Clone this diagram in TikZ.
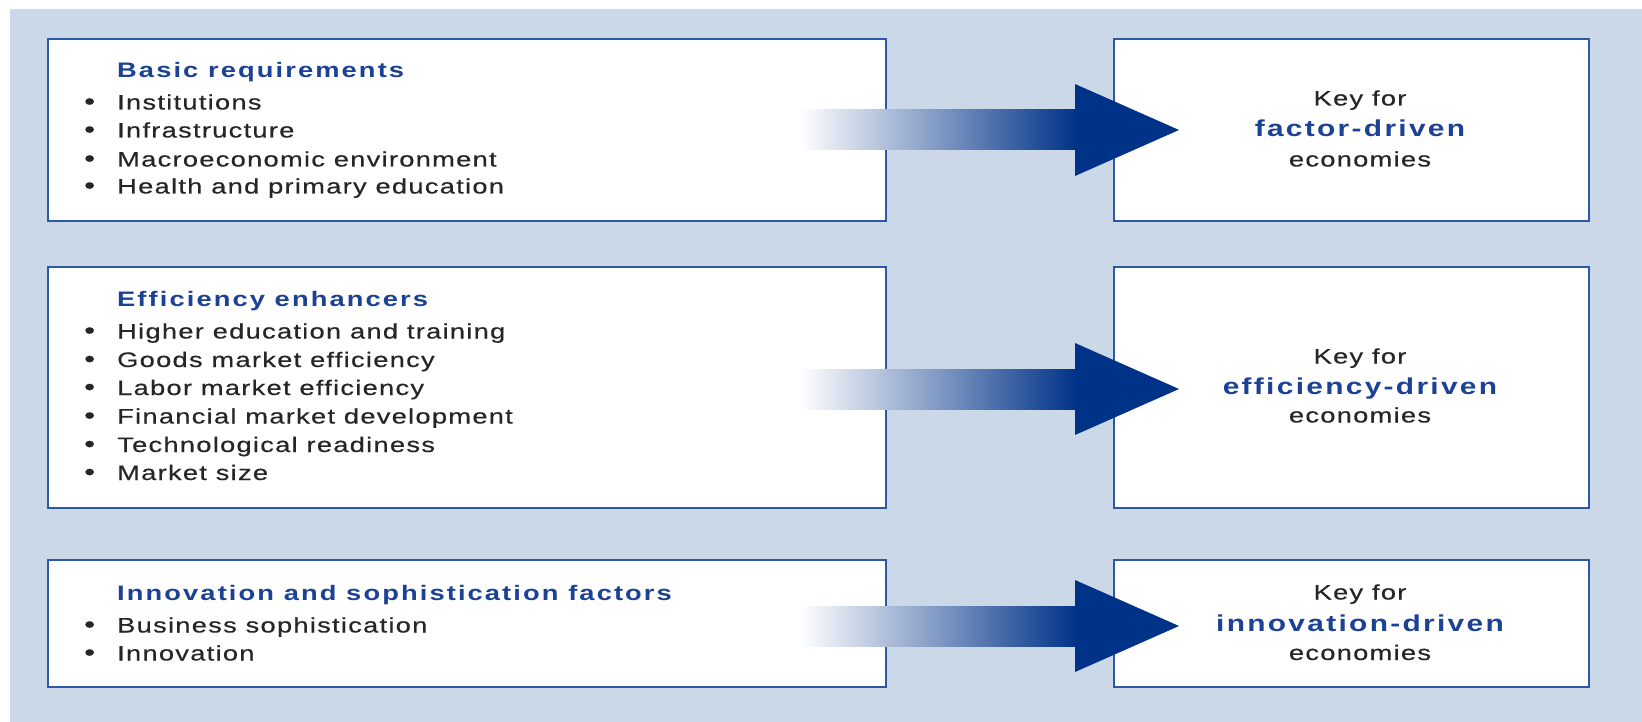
\documentclass[tikz,border=0pt]{standalone}
\usepackage{fontspec}
\setmainfont{Liberation Sans}
\newfontfamily\wefont[FakeStretch=1.3,LetterSpace=6,FakeBold=0.4]{Liberation Sans}
\newfontfamily\wbfont[FakeStretch=1.3,LetterSpace=10]{Liberation Sans Bold}
\usetikzlibrary{calc}
\definecolor{bgblue}{RGB}{203,216,232}
\definecolor{lineblue}{RGB}{46,88,166}
\definecolor{arrowblue}{RGB}{0,50,135}
\definecolor{titleblue}{RGB}{28,66,150}
\definecolor{textgray}{RGB}{38,38,38}
\begin{document}
\begin{tikzpicture}[x=1pt,y=-1pt,
  panel/.style={draw=lineblue,line width=2.5pt,fill=white,inner sep=0pt},
  txt/.style={inner sep=0pt,anchor=west,text height=15pt,text depth=0pt,
    font=\wefont\fontsize{21}{21}\selectfont,text=textgray},
  ttl/.style={txt,font=\wbfont\fontsize{21}{21}\selectfont,text=titleblue},
  keytxt/.style={inner sep=0pt,anchor=center,text height=15pt,text depth=0pt,
    font=\wefont\fontsize{21}{21}\selectfont,text=textgray},
  keybold/.style={keytxt,font=\wbfont\fontsize{23}{23}\selectfont,text=titleblue},
  shaft/.style={left color=white,right color=arrowblue},
  head/.style={fill=arrowblue}]
\useasboundingbox (0,0) rectangle (1642,722);
\fill[bgblue] (10,9) rectangle (1642,722);

% boxes
\node[panel,minimum width=838pt,minimum height=182pt] (L1) at (467,130) {};
\node[panel,minimum width=475pt,minimum height=182pt] (R1) at (1351.5,130) {};
\node[panel,minimum width=838pt,minimum height=241pt] (L2) at (467,387.5) {};
\node[panel,minimum width=475pt,minimum height=241pt] (R2) at (1351.5,387.5) {};
\node[panel,minimum width=838pt,minimum height=127pt] (L3) at (467,623.5) {};
\node[panel,minimum width=475pt,minimum height=127pt] (R3) at (1351.5,623.5) {};

\newcommand{\bul}[1]{\makebox[33pt][l]{\fontsize{24}{24}\selectfont •}#1}

% row 1 text
\node[ttl] (t1) at (117,70.5) {Basic requirements};
\node[txt] (i11) at (84,102) {\bul{Institutions}};
\node[txt] (i12) at (84,130) {\bul{Infrastructure}};
\node[txt] (i13) at (84,159) {\bul{Macroeconomic environment}};
\node[txt] (i14) at (84,186) {\bul{Health and primary education}};

% row 2 text
\node[ttl] (t2) at (117,299) {Efficiency enhancers};
\node[txt] (i21) at (84,331) {\bul{Higher education and training}};
\node[txt] (i22) at (84,359.5) {\bul{Goods market efficiency}};
\node[txt] (i23) at (84,387.5) {\bul{Labor market efficiency}};
\node[txt] (i24) at (84,416) {\bul{Financial market development}};
\node[txt] (i25) at (84,444.5) {\bul{Technological readiness}};
\node[txt] (i26) at (84,472.5) {\bul{Market size}};

% row 3 text
\node[ttl] (t3) at (117,593) {Innovation and sophistication factors};
\node[txt] (i31) at (84,625) {\bul{Business sophistication}};
\node[txt] (i32) at (84,653) {\bul{Innovation}};

% right texts
\node[keytxt] (k1a) at (1360,98) {Key for};
\node[keybold] (k1b) at (1360,129) {factor-driven};
\node[keytxt] (k1c) at (1360,159) {economies};
\node[keytxt] (k2a) at (1360,356) {Key for};
\node[keybold] (k2b) at (1360,386.5) {efficiency-driven};
\node[keytxt] (k2c) at (1360,415) {economies};
\node[keytxt] (k3a) at (1360,592) {Key for};
\node[keybold] (k3b) at (1360,623.5) {innovation-driven};
\node[keytxt] (k3c) at (1360,652.5) {economies};

% arrows
\coordinate (A1s) at (800,130); \coordinate (A1t) at (1179,130);
\coordinate (A2s) at (800,389); \coordinate (A2t) at (1179,389);
\coordinate (A3s) at (800,626); \coordinate (A3t) at (1179,626);
\foreach \a in {A1,A2,A3}{
  \shade[shaft] ($(\a s)+(0,-20)$) rectangle ($(\a t)+(-102,20)$);
  \fill[head] ($(\a t)+(-104,-46)$) -- (\a t) -- ($(\a t)+(-104,46)$) -- cycle;
}
\end{tikzpicture}
\end{document}
